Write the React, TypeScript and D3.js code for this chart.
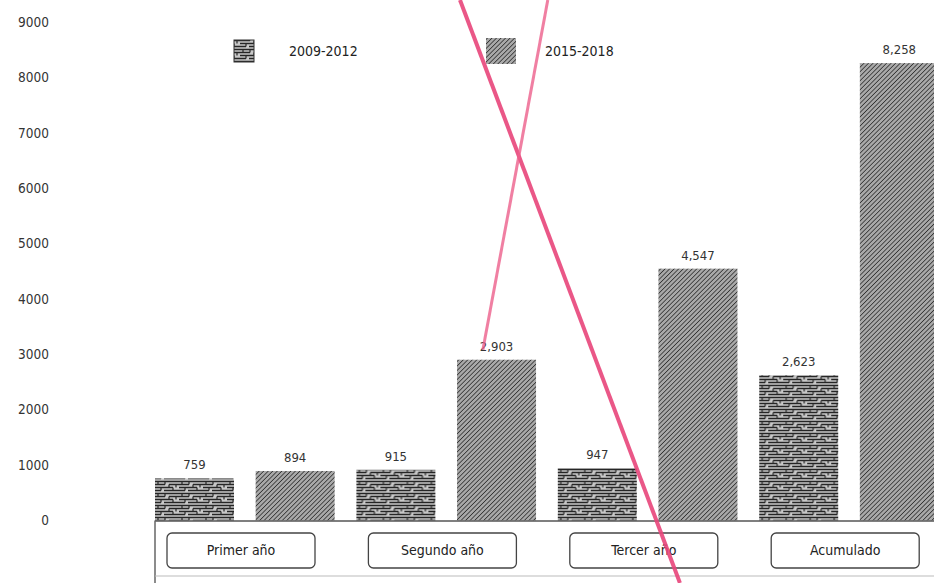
import React, { useEffect } from "react";
import * as d3 from "d3";

const categories = ["Primer año", "Segundo año", "Tercer año", "Acumulado"];
const seriesNames = ["2009-2012", "2015-2018"];
const values2009 = [759, 915, 947, 2623];
const values2015 = [894, 2903, 4547, 8258];
const yTicks = [0, 1000, 2000, 3000, 4000, 5000, 6000, 7000, 8000, 9000];

const W = 934;
const H = 583;

export default function App() {
  useEffect(() => {
    document.body.style.margin = "0";
  }, []);

  const x0 = 155;
  const baseY = 520.5;
  const y = d3.scaleLinear().domain([0, 9000]).range([baseY, 22]);
  const xCat = d3.scaleBand().domain(categories).range([x0, x0 + 4 * 201.4]).paddingInner(0).paddingOuter(0);
  const xSer = d3
    .scaleBand()
    .domain(seriesNames)
    .range([0, xCat.bandwidth() * 0.892])
    .paddingInner(0.215)
    .paddingOuter(0)
    .align(0);
  const fmt = d3.format(",");
  const font = "'DejaVu Sans Condensed', 'Liberation Sans Narrow', 'Liberation Sans', sans-serif";

  const series = [
    { name: seriesNames[0], vals: values2009, fill: "url(#patA)" },
    { name: seriesNames[1], vals: values2015, fill: "url(#patB)" },
  ];

  return (
    <svg width={W} height={H} style={{ display: "block", background: "#fff" }} fontFamily={font}>
      <defs>
        <pattern id="patA" width="24" height="12" patternUnits="userSpaceOnUse">
          <rect width="24" height="12" fill="#c8c8c8" />
          <path d="M0 1.5H24M0 4.5H10M14 4.5H24M0 7.5H18M0 10.5H6M9 10.5H24" stroke="#262626" strokeWidth="1.4" />
          <path d="M10 1.5V4.5M14 4.5V7.5M18 7.5V10.5M6 7.5V10.5M3 1.5V4.5M21 4.5V7.5" stroke="#262626" strokeWidth="1.2" />
        </pattern>
        <pattern id="patB" width="3.2" height="3.2" patternUnits="userSpaceOnUse" patternTransform="rotate(45)">
          <rect width="3.2" height="3.2" fill="#a9a9a9" />
          <line x1="0" y1="0" x2="0" y2="3.2" stroke="#333" strokeWidth="1.6" />
        </pattern>
      </defs>

      {/* y tick labels */}
      {yTicks.map((t) => (
        <text key={t} x={49} y={y(t)} dy="0.35em" textAnchor="end" fontSize={13.5} fill="#333">
          {t}
        </text>
      ))}

      {/* legend */}
      <rect x={234} y={40} width={20} height={22} fill="url(#patA)" stroke="#333" strokeWidth={1} />
      <text x={289} y={51} dy="0.35em" fontSize={14} fill="#222">{seriesNames[0]}</text>
      <rect x={486} y={38} width={30} height={26} fill="url(#patB)" />
      <text x={545} y={51} dy="0.35em" fontSize={14} fill="#222">{seriesNames[1]}</text>

      {/* bars */}
      {categories.map((c, i) => (
        <g key={c} transform={`translate(${xCat(c)},0)`}>
          {series.map((s) => {
            const bx = xSer(s.name) as number;
            const bw = xSer.bandwidth();
            const v = s.vals[i];
            return (
              <g key={s.name}>
                <rect x={bx} y={y(v)} width={bw} height={baseY - y(v)} fill={s.fill} />
                <text x={bx + bw / 2} y={y(v) - 9} textAnchor="middle" fontSize={13} fill="#333">
                  {fmt(v)}
                </text>
              </g>
            );
          })}
        </g>
      ))}

      {/* axis line */}
      <line x1={x0} x2={W} y1={baseY + 0.5} y2={baseY + 0.5} stroke="#555" strokeWidth={1.5} />
      <line x1={x0} x2={x0} y1={baseY} y2={H} stroke="#666" strokeWidth={1.5} />
      <line x1={x0} x2={W} y1={576} y2={576} stroke="#bbb" strokeWidth={1} />

      {/* category boxes */}
      {categories.map((c) => {
        const bx = (xCat(c) as number) + 12;
        return (
          <g key={c}>
            <rect x={bx} y={533} width={148} height={35} rx={5} fill="#fff" stroke="#444" strokeWidth={1.3} />
            <text x={bx + 74} y={550.5} dy="0.35em" textAnchor="middle" fontSize={14} fill="#222">
              {c}
            </text>
          </g>
        );
      })}

      {/* pink cross-out strokes */}
      <line x1={W * 0.4925} y1={0} x2={W * 0.728} y2={H} stroke="#e8457a" strokeWidth={4} strokeOpacity={0.9} />
      <line x1={W * 0.5865} y1={0} x2={W * 0.517} y2={H * 0.6} stroke="#ec5f8b" strokeWidth={3} strokeOpacity={0.8} />
    </svg>
  );
}
